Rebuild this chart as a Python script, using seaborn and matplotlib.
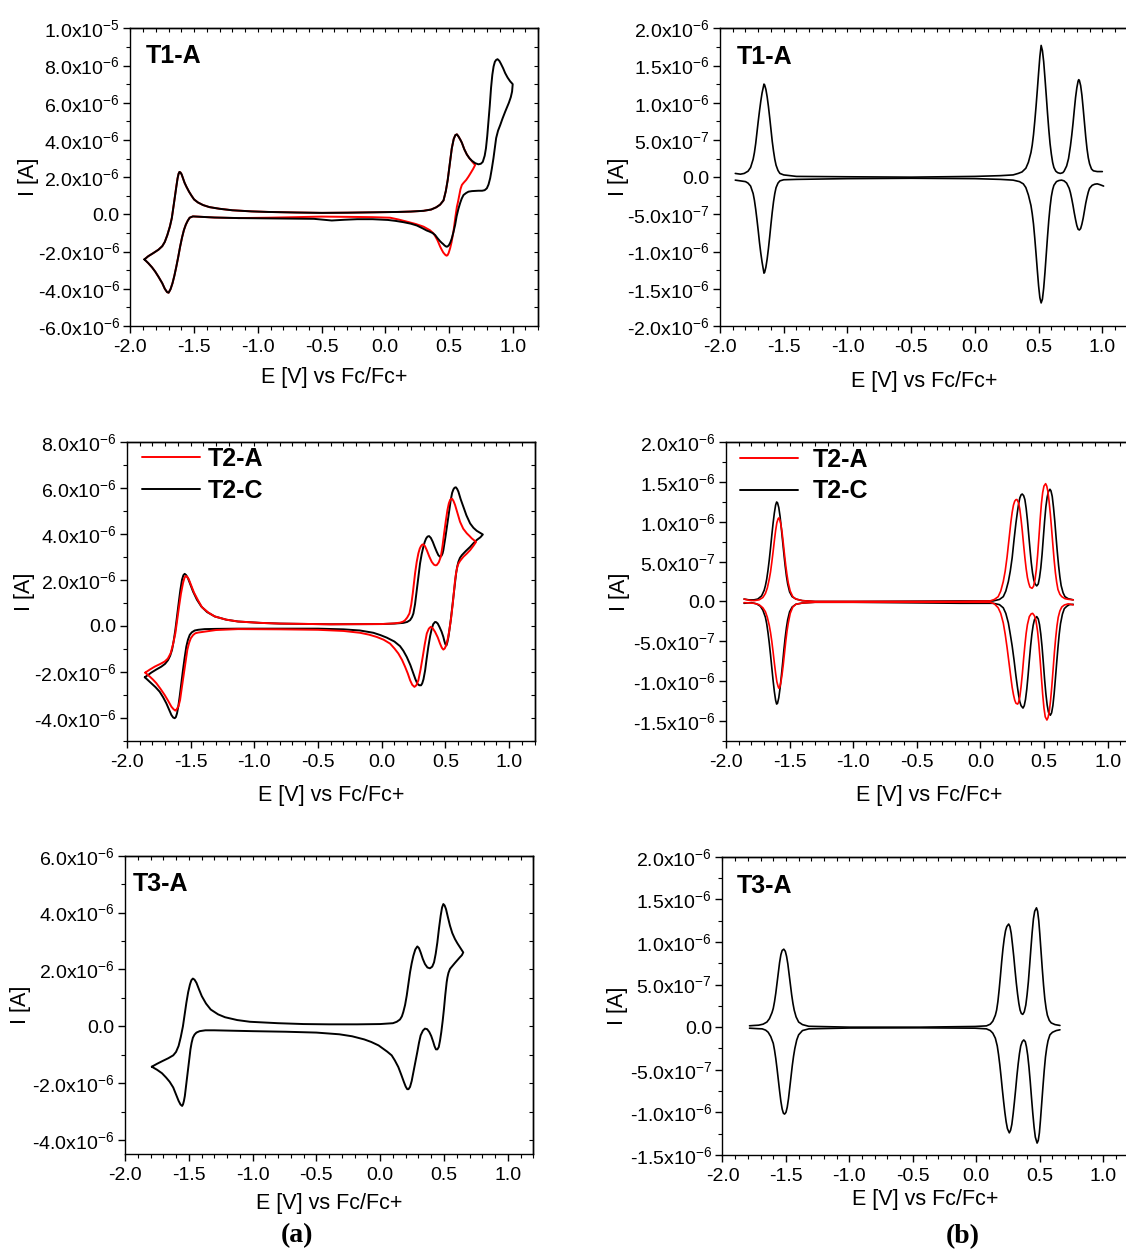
import numpy as np
import matplotlib
matplotlib.use("Agg")
import matplotlib.pyplot as plt
from matplotlib.lines import Line2D
from matplotlib.ticker import MultipleLocator, FixedLocator, FuncFormatter
import seaborn as sns

# ---------------- data (potential in V vs Fc/Fc+, current in uA) ----------------
# T1-A cyclic voltammetry, full window (black): anodic sweep then cathodic return
t1a_cv_E = [-1.89, -1.86, -1.82, -1.78, -1.75, -1.73, -1.71, -1.69, -1.675, -1.655, -1.64, -1.63,
            -1.622, -1.615, -1.607, -1.598, -1.588, -1.575, -1.56, -1.54, -1.52, -1.50, -1.47,
            -1.43, -1.38, -1.30, -1.20, -1.05, -0.92, -0.70, -0.50, -0.30, -0.08, 0.10, 0.20,
            0.30, 0.36, 0.40, 0.43, 0.457, 0.475, 0.49, 0.505, 0.522, 0.537, 0.55, 0.562, 0.575,
            0.59, 0.601, 0.62, 0.64, 0.66, 0.68, 0.706, 0.731, 0.75, 0.765, 0.78, 0.79, 0.80,
            0.81, 0.82, 0.83, 0.84, 0.85, 0.86, 0.87, 0.881, 0.895, 0.907, 0.925, 0.941, 0.96,
            0.98, 1.00,
            0.995, 0.985, 0.97, 0.955, 0.941, 0.92, 0.902, 0.885, 0.87, 0.86, 0.849, 0.836,
            0.823, 0.81, 0.797, 0.78, 0.76, 0.73, 0.70, 0.68, 0.653, 0.635, 0.614, 0.60, 0.588,
            0.574, 0.56, 0.548, 0.535, 0.522, 0.51, 0.50, 0.49, 0.483, 0.475, 0.465, 0.455,
            0.443, 0.431, 0.41, 0.391, 0.37, 0.345, 0.326, 0.29, 0.248, 0.20, 0.143, 0.08, 0.02,
            -0.10, -0.22, -0.32, -0.42, -0.50, -0.56, -0.70, -0.92, -1.15, -1.34, -1.45, -1.51,
            -1.535, -1.55, -1.565, -1.58, -1.595, -1.61, -1.625, -1.64, -1.655, -1.67, -1.685,
            -1.70, -1.712, -1.73, -1.75, -1.78, -1.805, -1.83, -1.86, -1.89]
t1a_cv_I = [-2.42, -2.25, -2.08, -1.90, -1.71, -1.48, -1.11, -0.65, -0.20, 0.75, 1.50, 1.93,
            2.18, 2.28, 2.25, 2.15, 1.95, 1.70, 1.48, 1.22, 1.00, 0.80, 0.64,
            0.50, 0.39, 0.30, 0.22, 0.16, 0.13, 0.10, 0.08, 0.09, 0.11, 0.13, 0.15,
            0.19, 0.26, 0.38, 0.52, 0.75, 1.25, 1.85, 2.65, 3.55, 4.05, 4.26, 4.30, 4.18,
            4.00, 3.85, 3.50, 3.22, 3.02, 2.88, 2.75, 2.69, 2.72, 2.82, 3.15, 3.55, 4.20,
            5.00, 5.85, 6.80, 7.50, 7.95, 8.20, 8.30, 8.34, 8.25, 8.10, 7.85, 7.59, 7.35,
            7.15, 7.00,
            6.60, 6.30, 6.00, 5.75, 5.52, 5.15, 4.80, 4.50, 4.10, 3.60, 3.02, 2.45,
            1.94, 1.60, 1.40, 1.30, 1.27, 1.27, 1.26, 1.25, 1.22, 1.15, 1.04, 0.85, 0.62,
            0.30, -0.10, -0.57, -0.95, -1.29, -1.52, -1.65, -1.72, -1.74, -1.72, -1.67, -1.60,
            -1.53, -1.45, -1.28, -1.11, -1.00, -0.92, -0.87, -0.74, -0.60, -0.50, -0.42, -0.35, -0.30,
            -0.26, -0.26, -0.29, -0.33, -0.28, -0.24, -0.23, -0.22, -0.20, -0.17, -0.13, -0.11,
            -0.18, -0.34, -0.55, -0.84, -1.25, -1.74, -2.30, -2.82, -3.30, -3.71, -4.02,
            -4.21, -4.18, -4.00, -3.70, -3.35, -3.08, -2.85, -2.62, -2.42]
# T1-A cyclic voltammetry, narrow window (red)
t1a_cv_narrow_E = [-1.89, -1.86, -1.82, -1.78, -1.75, -1.73, -1.71, -1.69, -1.675, -1.655, -1.64,
                   -1.63, -1.622, -1.615, -1.607, -1.598, -1.588, -1.575, -1.56, -1.54, -1.52,
                   -1.50, -1.47, -1.43, -1.38, -1.30, -1.20, -1.05, -0.92, -0.70, -0.50, -0.30,
                   -0.08, 0.10, 0.20, 0.30, 0.36, 0.40, 0.43, 0.457, 0.475, 0.49, 0.505, 0.522,
                   0.537, 0.55, 0.562, 0.575, 0.59, 0.601, 0.62, 0.64, 0.66, 0.68, 0.705,
                   0.69, 0.67, 0.653, 0.635, 0.615, 0.601, 0.59, 0.58, 0.57, 0.562, 0.55, 0.535,
                   0.52, 0.509, 0.497, 0.488, 0.48, 0.47, 0.455, 0.443, 0.431, 0.41, 0.39, 0.378,
                   0.35, 0.30, 0.24, 0.169, 0.10, 0.038, -0.10, -0.22, -0.50, -0.70, -0.92, -1.15,
                   -1.34, -1.45, -1.51, -1.535, -1.55, -1.565, -1.58, -1.595, -1.61, -1.625, -1.64,
                   -1.655, -1.67, -1.685, -1.70, -1.712, -1.73, -1.75, -1.78, -1.805, -1.83, -1.86,
                   -1.89]
t1a_cv_narrow_I = [-2.42, -2.25, -2.08, -1.90, -1.71, -1.48, -1.11, -0.65, -0.20, 0.75, 1.50,
                   1.93, 2.18, 2.28, 2.25, 2.15, 1.95, 1.70, 1.48, 1.22, 1.00,
                   0.80, 0.64, 0.50, 0.39, 0.30, 0.22, 0.16, 0.13, 0.10, 0.08, 0.09,
                   0.11, 0.13, 0.15, 0.19, 0.26, 0.38, 0.52, 0.75, 1.25, 1.85, 2.65, 3.55,
                   4.05, 4.26, 4.30, 4.18, 4.00, 3.85, 3.50, 3.22, 3.02, 2.85, 2.65,
                   2.45, 2.22, 2.03, 1.85, 1.70, 1.58, 1.35, 1.00, 0.65, 0.41, -0.15, -0.93,
                   -1.50, -1.82, -2.08, -2.20, -2.22, -2.17, -2.05, -1.90, -1.74, -1.40, -1.15, -1.02,
                   -0.85, -0.66, -0.52, -0.39, -0.27, -0.18, -0.15, -0.14, -0.12, -0.15, -0.18, -0.20,
                   -0.17, -0.13, -0.11, -0.18, -0.34, -0.55, -0.84, -1.25, -1.74, -2.30, -2.82,
                   -3.30, -3.71, -4.02, -4.21, -4.18, -4.00, -3.70, -3.35, -3.08, -2.85, -2.62,
                   -2.42]

# T1-A differential pulse voltammetry
t1a_dpv_fwd_E = [-1.88, -1.86, -1.84, -1.81, -1.78, -1.76, -1.74, -1.73, -1.72, -1.71, -1.70,
                 -1.69, -1.68, -1.67, -1.66, -1.655, -1.65, -1.64, -1.63, -1.62, -1.61, -1.60,
                 -1.59, -1.58, -1.57, -1.56, -1.545, -1.53, -1.50, -1.45, -1.40, -1.0, -0.5, 0.0,
                 0.20, 0.30, 0.34, 0.37, 0.40, 0.42, 0.44, 0.45, 0.46, 0.47, 0.48, 0.49, 0.50,
                 0.51, 0.52, 0.53, 0.54, 0.55, 0.56, 0.57, 0.58, 0.59, 0.60, 0.61, 0.62, 0.635,
                 0.65, 0.67, 0.69, 0.70, 0.72, 0.735, 0.75, 0.76, 0.77, 0.78, 0.79, 0.80, 0.81,
                 0.815, 0.82, 0.83, 0.84, 0.85, 0.86, 0.87, 0.88, 0.89, 0.90, 0.915, 0.93, 0.96,
                 1.00]
t1a_dpv_fwd_I = [0.05, 0.045, 0.04, 0.05, 0.08, 0.13, 0.24, 0.33, 0.45, 0.60, 0.75,
                 0.89, 1.02, 1.13, 1.21, 1.25, 1.24, 1.18, 1.08, 0.95, 0.80, 0.64,
                 0.48, 0.35, 0.24, 0.16, 0.09, 0.05, 0.03, 0.02, 0.01, 0.005, 0.0, 0.01,
                 0.02, 0.03, 0.05, 0.07, 0.12, 0.20, 0.33, 0.43, 0.57, 0.75, 0.95, 1.17, 1.40,
                 1.62, 1.77, 1.70, 1.55, 1.33, 1.10, 0.86, 0.64, 0.45, 0.31, 0.20, 0.13, 0.08,
                 0.06, 0.05, 0.06, 0.08, 0.15, 0.25, 0.42, 0.56, 0.72, 0.90, 1.07, 1.20, 1.29,
                 1.31, 1.30, 1.23, 1.10, 0.92, 0.73, 0.54, 0.38, 0.26, 0.18, 0.11, 0.085, 0.075,
                 0.075]
t1a_dpv_rev_E = [-1.88, -1.84, -1.80, -1.78, -1.76, -1.74, -1.73, -1.72, -1.71, -1.70, -1.69,
                 -1.68, -1.67, -1.66, -1.655, -1.65, -1.64, -1.63, -1.62, -1.61, -1.60, -1.59,
                 -1.58, -1.57, -1.56, -1.545, -1.53, -1.50, -1.40, -1.0, -0.5, 0.0, 0.20, 0.30,
                 0.35, 0.38, 0.40, 0.42, 0.44, 0.45, 0.46, 0.47, 0.48, 0.49, 0.50, 0.51, 0.52,
                 0.53, 0.54, 0.55, 0.56, 0.57, 0.58, 0.59, 0.60, 0.61, 0.62, 0.64, 0.66, 0.68,
                 0.70, 0.72, 0.74, 0.75, 0.76, 0.77, 0.78, 0.79, 0.80, 0.81, 0.82, 0.83, 0.84,
                 0.85, 0.86, 0.87, 0.88, 0.89, 0.90, 0.92, 0.94, 0.96, 0.98, 1.01]
t1a_dpv_rev_I = [-0.04, -0.05, -0.06, -0.08, -0.12, -0.22, -0.31, -0.43, -0.57, -0.72, -0.88,
                 -1.02, -1.14, -1.24, -1.29, -1.28, -1.21, -1.10, -0.96, -0.80, -0.63, -0.47,
                 -0.33, -0.22, -0.14, -0.08, -0.05, -0.035, -0.03, -0.02, -0.015, -0.02, -0.03, -0.04,
                 -0.06, -0.09, -0.14, -0.24, -0.38, -0.49, -0.63, -0.82, -1.03, -1.25, -1.46, -1.62, -1.69,
                 -1.64, -1.49, -1.28, -1.04, -0.80, -0.58, -0.40, -0.26, -0.17, -0.11, -0.06, -0.045, -0.04,
                 -0.05, -0.08, -0.15, -0.21, -0.29, -0.38, -0.48, -0.57, -0.65, -0.70, -0.71, -0.69, -0.63,
                 -0.55, -0.45, -0.35, -0.27, -0.20, -0.15, -0.11, -0.095, -0.09, -0.10, -0.12]

# T2-C cyclic voltammetry (black)
t2c_cv_E = [-1.859, -1.83, -1.808, -1.77, -1.729, -1.70, -1.677, -1.66, -1.645, -1.632, -1.619,
            -1.606, -1.593, -1.58, -1.567, -1.556, -1.546, -1.535, -1.520, -1.50, -1.480, -1.45,
            -1.415, -1.37, -1.310, -1.22, -1.127, -0.95, -0.8, -0.4, 0.0, 0.10, 0.170, 0.20,
            0.223, 0.238, 0.249, 0.262, 0.275, 0.288, 0.301, 0.314, 0.327, 0.338, 0.349, 0.36,
            0.372, 0.386, 0.401, 0.417, 0.432, 0.445, 0.458, 0.47, 0.478, 0.484, 0.50, 0.516,
            0.53, 0.542, 0.553, 0.563, 0.572, 0.582, 0.592, 0.602, 0.62, 0.641, 0.665, 0.694,
            0.72, 0.746, 0.77, 0.794,
            0.775, 0.746, 0.72, 0.694, 0.66, 0.629, 0.614, 0.602, 0.592, 0.584, 0.574, 0.563,
            0.552, 0.542, 0.532, 0.524, 0.515, 0.508, 0.50, 0.492, 0.484, 0.47, 0.453, 0.44,
            0.428, 0.419, 0.405, 0.393, 0.38, 0.366, 0.353, 0.341, 0.328, 0.318, 0.309, 0.295,
            0.280, 0.265, 0.249, 0.225, 0.197, 0.17, 0.144, 0.10, 0.040, -0.01, -0.065, -0.17,
            -0.3, -0.5, -0.8, -1.127, -1.30, -1.389, -1.44, -1.467, -1.49, -1.506, -1.52, -1.533,
            -1.546, -1.559, -1.572, -1.585, -1.596, -1.606, -1.615, -1.624, -1.636, -1.650,
            -1.67, -1.690, -1.715, -1.742, -1.775, -1.808, -1.835, -1.859]
t2c_cv_I = [-2.23, -2.12, -2.03, -1.90, -1.77, -1.65, -1.49, -1.30, -1.04, -0.65, -0.17,
            0.42, 0.99, 1.55, 2.00, 2.20, 2.26, 2.21, 2.07, 1.78, 1.49, 1.14,
            0.84, 0.60, 0.41, 0.27, 0.19, 0.13, 0.10, 0.07, 0.08, 0.10, 0.13, 0.17,
            0.25, 0.38, 0.54, 0.95, 1.55, 2.15, 2.71, 3.12, 3.43, 3.65, 3.80, 3.88,
            3.90, 3.82, 3.65, 3.42, 3.22, 3.07, 3.00, 3.05, 3.15, 3.29, 3.85, 4.45,
            5.00, 5.47, 5.78, 5.93, 6.00, 6.02, 5.95, 5.83, 5.50, 5.17, 4.80, 4.45,
            4.26, 4.13, 4.05, 3.97,
            3.85, 3.73, 3.59, 3.43, 3.25, 3.07, 2.95, 2.78, 2.55, 2.28, 1.80, 1.26,
            0.75, 0.25, -0.15, -0.48, -0.72, -0.85, -0.80, -0.66, -0.48, -0.25, -0.04, 0.10,
            0.16, 0.17, 0.08, -0.12, -0.45, -0.91, -1.42, -1.93, -2.32, -2.50, -2.58, -2.58,
            -2.51, -2.32, -2.07, -1.70, -1.35, -1.08, -0.88, -0.68, -0.51, -0.40, -0.30, -0.20,
            -0.15, -0.12, -0.12, -0.12, -0.13, -0.14, -0.17, -0.20, -0.28, -0.39, -0.60, -0.90,
            -1.38, -1.91, -2.50, -3.07, -3.50, -3.80, -3.96, -4.01, -3.98, -3.87,
            -3.62, -3.36, -3.10, -2.86, -2.66, -2.49, -2.35, -2.23]
# T2-A cyclic voltammetry (red)
t2a_cv_E = [-1.855, -1.82, -1.781, -1.74, -1.703, -1.678, -1.656, -1.638, -1.619, -1.605, -1.590,
            -1.575, -1.559, -1.548, -1.538, -1.527, -1.514, -1.495, -1.473, -1.44, -1.410, -1.36,
            -1.310, -1.22, -1.127, -0.95, -0.8, -0.4, 0.0, 0.10, 0.144, 0.17, 0.184, 0.20,
            0.218, 0.232, 0.244, 0.253, 0.262, 0.275, 0.288, 0.299, 0.309, 0.318, 0.327, 0.34,
            0.354, 0.373, 0.393, 0.41, 0.422, 0.432, 0.448, 0.464, 0.477, 0.490, 0.503, 0.516,
            0.527, 0.537, 0.545, 0.553, 0.564, 0.576, 0.595, 0.615, 0.64, 0.668, 0.69, 0.707,
            0.725, 0.741,
            0.72, 0.694, 0.668, 0.641, 0.615, 0.602, 0.594, 0.585, 0.576, 0.567, 0.558, 0.545,
            0.531, 0.518, 0.506, 0.495, 0.484, 0.472, 0.458, 0.44, 0.419, 0.40, 0.385, 0.37,
            0.354, 0.338, 0.322, 0.305, 0.288, 0.272, 0.257, 0.24, 0.223, 0.205, 0.184, 0.16,
            0.131, 0.10, 0.066, 0.015, -0.039, -0.10, -0.170, -0.3, -0.5, -0.8, -1.127, -1.30,
            -1.389, -1.44, -1.462, -1.48, -1.498, -1.512, -1.525, -1.54, -1.556, -1.57, -1.582,
            -1.594, -1.604, -1.612, -1.619, -1.633, -1.650, -1.675, -1.703, -1.735, -1.768,
            -1.795, -1.820, -1.84, -1.855]
t2a_cv_I = [-2.03, -1.90, -1.77, -1.66, -1.55, -1.42, -1.19, -0.82, -0.32, 0.25, 0.84,
            1.40, 1.86, 2.08, 2.17, 2.14, 2.03, 1.76, 1.45, 1.10, 0.81, 0.58,
            0.41, 0.27, 0.19, 0.13, 0.10, 0.07, 0.08, 0.11, 0.14, 0.19, 0.25, 0.36,
            0.54, 0.92, 1.41, 1.85, 2.28, 2.78, 3.15, 3.36, 3.47, 3.53, 3.54, 3.46,
            3.29, 3.02, 2.78, 2.66, 2.63, 2.64, 2.76, 3.00, 3.45, 4.02, 4.55, 5.03,
            5.32, 5.47, 5.52, 5.52, 5.42, 5.25, 4.90, 4.52, 4.22, 4.02, 3.90, 3.80,
            3.72, 3.65,
            3.48, 3.29, 3.14, 3.00, 2.82, 2.70, 2.57, 2.33, 1.99, 1.50, 0.97, 0.35,
            -0.19, -0.58, -0.84, -0.98, -1.03, -0.95, -0.77, -0.50, -0.26, -0.10, -0.04, -0.12,
            -0.33, -0.80, -1.35, -1.90, -2.36, -2.58, -2.65, -2.56, -2.36, -2.07, -1.78, -1.48,
            -1.20, -0.98, -0.77, -0.60, -0.48, -0.38, -0.30, -0.22, -0.17, -0.15, -0.14, -0.18,
            -0.25, -0.29, -0.32, -0.40, -0.54, -0.75, -1.04, -1.60, -2.20, -2.75, -3.22,
            -3.48, -3.58, -3.65, -3.68, -3.62, -3.51, -3.26, -3.00, -2.74, -2.49,
            -2.33, -2.20, -2.11, -2.03]

# T2-C differential pulse voltammetry (black)
t2c_dpv_fwd_E = [-1.858, -1.82, -1.78, -1.75, -1.72, -1.70, -1.69, -1.68, -1.67, -1.66, -1.65,
                 -1.64, -1.63, -1.62, -1.61, -1.602, -1.595, -1.585, -1.575, -1.565, -1.555,
                 -1.545, -1.535, -1.525, -1.515, -1.50, -1.48, -1.45, -1.40, -1.3, -1.0, -0.16,
                 0.10, 0.15, 0.18, 0.20, 0.22, 0.235, 0.25, 0.265, 0.28, 0.29, 0.30, 0.31, 0.32,
                 0.329, 0.34, 0.35, 0.36, 0.37, 0.38, 0.39, 0.40, 0.41, 0.42, 0.43, 0.443, 0.455,
                 0.465, 0.475, 0.485, 0.495, 0.505, 0.515, 0.525, 0.535, 0.547, 0.555, 0.565,
                 0.575, 0.585, 0.595, 0.605, 0.615, 0.625, 0.635, 0.65, 0.665, 0.69, 0.73]
t2c_dpv_fwd_I = [0.03, 0.02, 0.02, 0.03, 0.07, 0.14, 0.20, 0.28, 0.39, 0.52, 0.67,
                 0.83, 0.98, 1.11, 1.21, 1.25, 1.24, 1.18, 1.07, 0.92, 0.76,
                 0.60, 0.45, 0.32, 0.22, 0.12, 0.06, 0.03, 0.01, 0.0, 0.0, 0.006,
                 0.006, 0.025, 0.06, 0.13, 0.25, 0.38, 0.55, 0.78, 0.99, 1.11, 1.22, 1.30, 1.34,
                 1.35, 1.33, 1.28, 1.17, 1.02, 0.84, 0.66, 0.49, 0.36, 0.27, 0.22, 0.195, 0.22,
                 0.30, 0.42, 0.59, 0.80, 1.01, 1.19, 1.31, 1.38, 1.41, 1.39, 1.32,
                 1.18, 1.01, 0.81, 0.62, 0.45, 0.31, 0.20, 0.11, 0.06, 0.035, 0.02]
t2c_dpv_rev_E = [-1.858, -1.80, -1.76, -1.73, -1.71, -1.69, -1.68, -1.67, -1.66, -1.65, -1.64,
                 -1.63, -1.62, -1.61, -1.602, -1.595, -1.585, -1.575, -1.565, -1.555, -1.545,
                 -1.535, -1.525, -1.515, -1.50, -1.48, -1.45, -1.40, -1.3, -1.0, -0.16, 0.10,
                 0.15, 0.18, 0.20, 0.22, 0.235, 0.25, 0.265, 0.28, 0.29, 0.30, 0.31, 0.32, 0.335,
                 0.345, 0.355, 0.365, 0.375, 0.385, 0.395, 0.405, 0.415, 0.425, 0.443, 0.455,
                 0.465, 0.475, 0.485, 0.495, 0.505, 0.515, 0.525, 0.535, 0.550, 0.56, 0.57, 0.58,
                 0.59, 0.60, 0.61, 0.62, 0.63, 0.645, 0.66, 0.68, 0.70, 0.73]
t2c_dpv_rev_I = [-0.023, -0.015, -0.03, -0.06, -0.11, -0.20, -0.28, -0.39, -0.52, -0.67, -0.83,
                 -0.99, -1.13, -1.24, -1.29, -1.28, -1.21, -1.09, -0.94, -0.78, -0.61,
                 -0.46, -0.33, -0.23, -0.13, -0.07, -0.035, -0.02, -0.01, -0.01, -0.023, -0.023,
                 -0.04, -0.08, -0.15, -0.27, -0.41, -0.56, -0.74, -0.94, -1.06, -1.17, -1.26, -1.31, -1.34,
                 -1.31, -1.23, -1.10, -0.93, -0.74, -0.56, -0.41, -0.30, -0.23, -0.19, -0.22,
                 -0.29, -0.41, -0.57, -0.77, -0.98, -1.16, -1.30, -1.39, -1.43, -1.40, -1.31, -1.16,
                 -0.97, -0.77, -0.58, -0.41, -0.28, -0.16, -0.09, -0.06, -0.04, -0.036]
# T2-A differential pulse voltammetry (red)
t2a_dpv_fwd_E = [-1.858, -1.82, -1.78, -1.74, -1.71, -1.69, -1.675, -1.66, -1.65, -1.64, -1.63,
                 -1.62, -1.61, -1.60, -1.59, -1.585, -1.578, -1.57, -1.56, -1.55, -1.54, -1.53,
                 -1.52, -1.51, -1.495, -1.475, -1.45, -1.40, -1.3, -1.0, -0.16, 0.075, 0.11, 0.14,
                 0.16, 0.18, 0.195, 0.21, 0.225, 0.24, 0.25, 0.26, 0.27, 0.28, 0.288, 0.30, 0.31,
                 0.32, 0.33, 0.34, 0.35, 0.36, 0.37, 0.38, 0.39, 0.406, 0.418, 0.43, 0.44, 0.45,
                 0.46, 0.47, 0.48, 0.49, 0.50, 0.513, 0.522, 0.531, 0.54, 0.55, 0.56, 0.57, 0.58,
                 0.59, 0.60, 0.61, 0.625, 0.64, 0.665, 0.69, 0.73]
t2a_dpv_fwd_I = [0.03, 0.015, 0.01, 0.02, 0.05, 0.10, 0.17, 0.28, 0.37, 0.49, 0.62,
                 0.76, 0.89, 0.99, 1.04, 1.05, 1.03, 0.98, 0.88, 0.74, 0.59, 0.45,
                 0.33, 0.23, 0.13, 0.06, 0.03, 0.01, 0.0, 0.0, 0.0, 0.006, 0.025, 0.06,
                 0.13, 0.25, 0.38, 0.56, 0.78, 1.00, 1.12, 1.21, 1.26, 1.28, 1.28, 1.24, 1.16,
                 1.03, 0.88, 0.71, 0.55, 0.41, 0.30, 0.23, 0.18, 0.165, 0.19, 0.28, 0.40, 0.58,
                 0.80, 1.03, 1.23, 1.37, 1.45, 1.48, 1.45, 1.38, 1.26, 1.10, 0.91, 0.71, 0.52,
                 0.36, 0.24, 0.15, 0.09, 0.06, 0.035, 0.027, 0.02]
t2a_dpv_rev_E = [-1.858, -1.78, -1.74, -1.71, -1.69, -1.675, -1.66, -1.65, -1.64, -1.63, -1.62,
                 -1.61, -1.60, -1.59, -1.585, -1.578, -1.57, -1.56, -1.55, -1.54, -1.53, -1.52,
                 -1.51, -1.495, -1.475, -1.45, -1.40, -1.3, -1.0, -0.16, 0.075, 0.11, 0.14, 0.16,
                 0.18, 0.195, 0.21, 0.225, 0.24, 0.25, 0.26, 0.27, 0.28, 0.293, 0.30, 0.31, 0.32,
                 0.33, 0.34, 0.35, 0.36, 0.37, 0.385, 0.40, 0.411, 0.425, 0.437, 0.45, 0.46, 0.47,
                 0.48, 0.49, 0.50, 0.51, 0.523, 0.532, 0.542, 0.552, 0.562, 0.572, 0.582, 0.592,
                 0.602, 0.612, 0.625, 0.64, 0.66, 0.69, 0.71, 0.73]
t2a_dpv_rev_I = [-0.015, -0.023, -0.04, -0.08, -0.13, -0.20, -0.30, -0.39, -0.50, -0.63, -0.77,
                 -0.90, -1.01, -1.07, -1.09, -1.08, -1.03, -0.93, -0.80, -0.65, -0.50, -0.37,
                 -0.27, -0.15, -0.07, -0.035, -0.02, -0.01, -0.01, -0.01, -0.01, -0.03, -0.08, -0.15,
                 -0.27, -0.41, -0.58, -0.77, -0.96, -1.08, -1.17, -1.24, -1.28, -1.29, -1.27, -1.20, -1.07,
                 -0.91, -0.72, -0.55, -0.40, -0.29, -0.19, -0.155, -0.15, -0.18, -0.24, -0.38, -0.54, -0.74,
                 -0.96, -1.17, -1.34, -1.45, -1.49, -1.46, -1.38, -1.24, -1.06, -0.85, -0.64, -0.46,
                 -0.31, -0.20, -0.12, -0.07, -0.045, -0.03, -0.035, -0.044]

# T3-A cyclic voltammetry
t3a_cv_E = [-1.79, -1.75, -1.706, -1.66, -1.622, -1.60, -1.580, -1.563, -1.546, -1.532, -1.519,
            -1.505, -1.491, -1.48, -1.468, -1.455, -1.44, -1.42, -1.398, -1.365, -1.328, -1.27,
            -1.216, -1.12, -1.020, -0.80, -0.60, -0.40, -0.181, 0.0, 0.10, 0.13, 0.155, 0.17,
            0.181, 0.195, 0.208, 0.221, 0.234, 0.247, 0.260, 0.275, 0.291, 0.304, 0.317, 0.334,
            0.351, 0.37, 0.390, 0.408, 0.422, 0.435, 0.448, 0.461, 0.474, 0.485, 0.495, 0.505,
            0.516, 0.53, 0.547, 0.565, 0.586, 0.605, 0.625, 0.651,
            0.64, 0.625, 0.605, 0.586, 0.565, 0.547, 0.535, 0.527, 0.521, 0.51, 0.50, 0.49,
            0.479, 0.469, 0.459, 0.448, 0.437, 0.426, 0.416, 0.40, 0.385, 0.368, 0.351, 0.335,
            0.317, 0.304, 0.291, 0.275, 0.260, 0.247, 0.234, 0.222, 0.212, 0.20, 0.186, 0.165,
            0.142, 0.115, 0.090, 0.055, 0.024, -0.013, -0.07, -0.125, -0.22, -0.32, -0.50, -0.74,
            -1.0, -1.30, -1.37, -1.415, -1.44, -1.455, -1.468, -1.478, -1.487, -1.496, -1.505,
            -1.515, -1.524, -1.531, -1.538, -1.545, -1.552, -1.565, -1.580, -1.60, -1.622, -1.65,
            -1.678, -1.71, -1.748, -1.77, -1.79]
t3a_cv_I = [-1.42, -1.32, -1.22, -1.12, -1.02, -0.90, -0.69, -0.38, 0.0, 0.42, 0.83,
            1.20, 1.47, 1.62, 1.68, 1.64, 1.53, 1.30, 1.06, 0.80, 0.59, 0.42,
            0.32, 0.22, 0.16, 0.11, 0.08, 0.07, 0.07, 0.08, 0.11, 0.16, 0.24, 0.35,
            0.50, 0.75, 1.08, 1.50, 1.90, 2.22, 2.48, 2.70, 2.81, 2.75, 2.60, 2.37,
            2.19, 2.07, 2.04, 2.10, 2.25, 2.55, 2.95, 3.45, 3.89, 4.18, 4.30, 4.25,
            4.12, 3.85, 3.54, 3.28, 3.07, 2.92, 2.78, 2.60,
            2.50, 2.43, 2.33, 2.23, 2.12, 2.02, 1.88, 1.72, 1.55, 1.10, 0.62, 0.20,
            -0.20, -0.50, -0.73, -0.81, -0.81, -0.70, -0.55, -0.34, -0.20, -0.10, -0.08, -0.15,
            -0.32, -0.58, -0.90, -1.27, -1.61, -1.92, -2.13, -2.21, -2.21, -2.12, -1.96, -1.70,
            -1.43, -1.20, -1.02, -0.89, -0.79, -0.67, -0.55, -0.46, -0.35, -0.28, -0.22, -0.19,
            -0.17, -0.14, -0.14, -0.17, -0.22, -0.29, -0.40, -0.58, -0.81, -1.15, -1.51,
            -1.88, -2.21, -2.45, -2.62, -2.74, -2.80, -2.75, -2.62, -2.40, -2.15, -1.95,
            -1.80, -1.65, -1.53, -1.47, -1.42]

# T3-A differential pulse voltammetry
t3a_dpv_fwd_E = [-1.787, -1.75, -1.716, -1.68, -1.65, -1.63, -1.61, -1.60, -1.59, -1.58, -1.57,
                 -1.56, -1.55, -1.54, -1.53, -1.517, -1.505, -1.495, -1.485, -1.475, -1.465,
                 -1.455, -1.445, -1.435, -1.42, -1.40, -1.37, -1.32, -1.0, -0.44, -0.01, 0.08,
                 0.11, 0.13, 0.15, 0.16, 0.17, 0.18, 0.19, 0.20, 0.21, 0.22, 0.23, 0.24, 0.255,
                 0.265, 0.275, 0.285, 0.295, 0.305, 0.315, 0.325, 0.335, 0.345, 0.355, 0.366,
                 0.378, 0.39, 0.40, 0.41, 0.42, 0.43, 0.44, 0.45, 0.46, 0.474, 0.483, 0.492, 0.50,
                 0.51, 0.52, 0.53, 0.54, 0.55, 0.56, 0.575, 0.59, 0.62, 0.659]
t3a_dpv_fwd_I = [0.016, 0.02, 0.023, 0.035, 0.06, 0.10, 0.17, 0.22, 0.30, 0.40, 0.52,
                 0.64, 0.76, 0.85, 0.90, 0.915, 0.89, 0.83, 0.74, 0.62, 0.50,
                 0.38, 0.28, 0.20, 0.12, 0.06, 0.03, 0.01, 0.0, 0.0, 0.008, 0.015,
                 0.035, 0.07, 0.14, 0.20, 0.30, 0.44, 0.60, 0.77, 0.92, 1.04, 1.13, 1.18, 1.21,
                 1.18, 1.10, 0.97, 0.83, 0.67, 0.52, 0.39, 0.28, 0.20, 0.16, 0.15,
                 0.18, 0.26, 0.38, 0.53, 0.72, 0.92, 1.11, 1.27, 1.36, 1.40, 1.36, 1.25, 1.10,
                 0.89, 0.68, 0.49, 0.33, 0.22, 0.14, 0.08, 0.05, 0.03, 0.02]
t3a_dpv_rev_E = [-1.787, -1.72, -1.687, -1.66, -1.64, -1.62, -1.60, -1.59, -1.58, -1.57, -1.56,
                 -1.55, -1.54, -1.53, -1.52, -1.511, -1.50, -1.49, -1.48, -1.47, -1.46, -1.45,
                 -1.44, -1.43, -1.415, -1.40, -1.37, -1.32, -1.0, -0.44, -0.01, 0.08, 0.11, 0.13,
                 0.15, 0.165, 0.175, 0.185, 0.195, 0.205, 0.215, 0.225, 0.235, 0.245, 0.26, 0.27,
                 0.28, 0.29, 0.30, 0.31, 0.32, 0.33, 0.34, 0.35, 0.362, 0.374, 0.386, 0.395,
                 0.405, 0.415, 0.425, 0.435, 0.445, 0.455, 0.465, 0.479, 0.488, 0.497, 0.505,
                 0.515, 0.525, 0.535, 0.545, 0.555, 0.565, 0.58, 0.60, 0.63, 0.659]
t3a_dpv_rev_I = [-0.012, -0.018, -0.02, -0.035, -0.06, -0.11, -0.19, -0.27, -0.37, -0.49, -0.62,
                 -0.75, -0.87, -0.96, -1.01, -1.02, -1.00, -0.94, -0.84, -0.71, -0.58, -0.45,
                 -0.34, -0.25, -0.15, -0.09, -0.04, -0.02, -0.01, -0.008, -0.012, -0.02, -0.04, -0.07,
                 -0.13, -0.22, -0.32, -0.44, -0.58, -0.73, -0.87, -1.00, -1.11, -1.19, -1.24, -1.21,
                 -1.14, -1.02, -0.88, -0.73, -0.57, -0.43, -0.31, -0.22, -0.17, -0.15, -0.17, -0.23,
                 -0.33, -0.47, -0.64, -0.83, -1.01, -1.17, -1.29, -1.36, -1.33, -1.24, -1.10,
                 -0.90, -0.70, -0.51, -0.35, -0.24, -0.16, -0.09, -0.06, -0.04, -0.031]

UA = 1e-6  # the current arrays above are in microamperes

# ---------------- style ----------------
sns.set_theme(style="ticks")
plt.rcParams["font.family"] = ["Liberation Sans", "DejaVu Sans"]
plt.rcParams["mathtext.fontset"] = "custom"
plt.rcParams["mathtext.rm"] = "Liberation Sans"
plt.rcParams["mathtext.it"] = "Liberation Sans:italic"
plt.rcParams["mathtext.bf"] = "Liberation Sans:bold"
plt.rcParams["axes.unicode_minus"] = False
plt.rcParams["axes.linewidth"] = 1.0
for key in ["text.color", "axes.labelcolor", "xtick.color", "ytick.color", "axes.edgecolor"]:
    plt.rcParams[key] = "black"

W, H = 1126, 1259
fig = plt.figure(figsize=(W / 100, H / 100), dpi=100)
fig.patch.set_facecolor("white")


def px_axes(left, top, right, bottom):
    return fig.add_axes([left / W, 1 - bottom / H, (right - left) / W, (bottom - top) / H])


def sci_label(v, pos=None):
    if abs(v) < 1e-15:
        return "0.0"
    exp = int(np.floor(np.log10(abs(v)) + 1e-9))
    mant = v / 10.0 ** exp
    return f"{mant:.1f}x10$^{{{exp}}}$"


def style_axes(ax, ylim, ymajor, yminor, h_px, xlab_off, ylab_x, right_ticks=True):
    ax.set_xlim(-2.0, 1.2)
    ax.set_ylim(*ylim)
    ax.set_facecolor("white")
    for s in ax.spines.values():
        s.set_visible(True)
        s.set_color("black")
        s.set_linewidth(1.0)
    xt = [-2.0, -1.5, -1.0, -0.5, 0.0, 0.5, 1.0]
    ax.xaxis.set_major_locator(FixedLocator(xt))
    ax.xaxis.set_major_formatter(FuncFormatter(lambda v, p: f"{v:.1f}"))
    ax.xaxis.set_minor_locator(MultipleLocator(0.1))
    ax.yaxis.set_major_locator(FixedLocator(ymajor))
    ax.yaxis.set_major_formatter(FuncFormatter(sci_label))
    ax.yaxis.set_minor_locator(FixedLocator(yminor))
    ax.tick_params(axis="both", which="major", direction="out", length=5.2, width=1.0,
                   labelsize=14, colors="black", labelcolor="black")
    ax.tick_params(axis="x", which="major", pad=4.2)
    ax.tick_params(axis="y", which="major", pad=2.4)
    ax.tick_params(axis="both", which="minor", direction="out", length=3.0, width=0.8,
                   colors="black")
    ax.tick_params(top=False, right=False, left=True, bottom=True, which="both")
    # small inward ticks on the opposite spines
    top = ax.secondary_xaxis("top")
    top.xaxis.set_major_locator(FixedLocator(xt))
    top.xaxis.set_minor_locator(MultipleLocator(0.1))
    top.tick_params(which="both", direction="in", labeltop=False, length=3, width=0.8,
                    colors="black")
    top.spines["top"].set_linewidth(1.0)
    if right_ticks:
        rgt = ax.secondary_yaxis("right")
        rgt.yaxis.set_major_locator(FixedLocator(ymajor))
        rgt.yaxis.set_minor_locator(FixedLocator(yminor))
        rgt.tick_params(which="both", direction="in", labelright=False, length=3, width=0.8,
                        colors="black")
        rgt.spines["right"].set_linewidth(1.0)
    ax.set_xlabel("E [V] vs Fc/Fc+", fontsize=15.5, va="center", color="black")
    ax.set_ylabel("I [A]", fontsize=15.5, va="center", color="black")
    ax.xaxis.set_label_coords(0.5, -xlab_off / h_px)
    ax.yaxis.set_label_coords(ylab_x, 0.5)
    ax.grid(False)


def trace(ax, E, I, color, lw):
    sns.lineplot(x=np.asarray(E), y=np.asarray(I) * UA, sort=False, estimator=None,
                 color=color, linewidth=lw, ax=ax, legend=False)


def rng(a, b, step):
    return list(np.round(np.arange(a, b + step / 2, step), 12))


RED = "#ff0000"
BLK = "#000000"

# ---------------- row 1: T1-A ----------------
axA1 = px_axes(130.4, 28.3, 538.2, 326.0)
trace(axA1, t1a_cv_narrow_E, t1a_cv_narrow_I, RED, 1.4)
trace(axA1, t1a_cv_E, t1a_cv_I, BLK, 1.4)
style_axes(axA1, (-6e-6, 1e-5), rng(-6e-6, 1e-5, 2e-6), rng(-6e-6, 1e-5, 1e-6), 297.7, 51, -0.25)

axB1 = px_axes(720.0, 28.3, 1127.8, 326.0)
trace(axB1, t1a_dpv_fwd_E, t1a_dpv_fwd_I, BLK, 1.2)
trace(axB1, t1a_dpv_rev_E, t1a_dpv_rev_I, BLK, 1.2)
style_axes(axB1, (-2e-6, 2e-6), rng(-2e-6, 2e-6, 5e-7), rng(-2e-6, 2e-6, 2.5e-7), 297.7, 55,
           -0.249, right_ticks=False)

# ---------------- row 2: T2-A / T2-C ----------------
axA2 = px_axes(126.8, 441.7, 534.6, 741.0)
trace(axA2, t2c_cv_E, t2c_cv_I, BLK, 1.4)
trace(axA2, t2a_cv_E, t2a_cv_I, RED, 1.4)
style_axes(axA2, (-5e-6, 8e-6), rng(-4e-6, 8e-6, 2e-6), rng(-5e-6, 8e-6, 1e-6), 299.3, 54, -0.25)

axB2 = px_axes(726.0, 442.3, 1133.0, 740.7)
trace(axB2, t2c_dpv_fwd_E, t2c_dpv_fwd_I, BLK, 1.2)
trace(axB2, t2c_dpv_rev_E, t2c_dpv_rev_I, BLK, 1.2)
trace(axB2, t2a_dpv_fwd_E, t2a_dpv_fwd_I, RED, 1.2)
trace(axB2, t2a_dpv_rev_E, t2a_dpv_rev_I, RED, 1.2)
style_axes(axB2, (-1.75e-6, 2e-6), rng(-1.5e-6, 2e-6, 5e-7), rng(-1.75e-6, 2e-6, 2.5e-7), 298.4,
           55, -0.261, right_ticks=False)

# ---------------- row 3: T3-A ----------------
axA3 = px_axes(125.0, 855.7, 533.3, 1154.3)
trace(axA3, t3a_cv_E, t3a_cv_I, BLK, 1.4)
style_axes(axA3, (-4.5e-6, 6e-6), rng(-4e-6, 6e-6, 2e-6), rng(-4e-6, 6e-6, 1e-6), 298.6, 49, -0.257)

axB3 = px_axes(722.5, 856.7, 1128.6, 1155.0)
trace(axB3, t3a_dpv_fwd_E, t3a_dpv_fwd_I, BLK, 1.2)
trace(axB3, t3a_dpv_rev_E, t3a_dpv_rev_I, BLK, 1.2)
style_axes(axB3, (-1.5e-6, 2e-6), rng(-1.5e-6, 2e-6, 5e-7), rng(-1.5e-6, 2e-6, 2.5e-7), 298.3, 44,
           -0.259, right_ticks=False)

# ---------------- panel titles ----------------
for x, y, s in [(146, 56, "T1-A"), (737, 57, "T1-A"), (133, 884, "T3-A"), (737, 886, "T3-A")]:
    fig.text(x / W, 1 - y / H, s, fontsize=18, fontweight="bold", ha="left", va="center",
             color="black")

# ---------------- legends ----------------
handles = [Line2D([], [], color=RED, lw=1.4), Line2D([], [], color=BLK, lw=1.4)]
for ax, x0, pad in [(axA2, 15.2, 0.34), (axB2, 14.0, 0.62)]:
    w_px = ax.get_position().width * W
    ax.legend(handles, ["T2-A", "T2-C"], loc="upper left", frameon=False,
              bbox_to_anchor=(x0 / w_px, 0.982), borderaxespad=0, borderpad=0,
              handlelength=2.3, handletextpad=pad, labelspacing=0.31,
              prop={"family": "Liberation Sans", "weight": "bold", "size": 18})

# ---------------- column captions ----------------
fig.text(297 / W, 1 - 1236 / H, "(a)", fontsize=20, fontweight="bold", ha="center", va="center",
         family=["Liberation Serif", "DejaVu Serif"], color="black")
fig.text(963 / W, 1 - 1237 / H, "(b)", fontsize=20, fontweight="bold", ha="center", va="center",
         family=["Liberation Serif", "DejaVu Serif"], color="black")

fig.savefig("out.png", dpi=100, facecolor="white")
